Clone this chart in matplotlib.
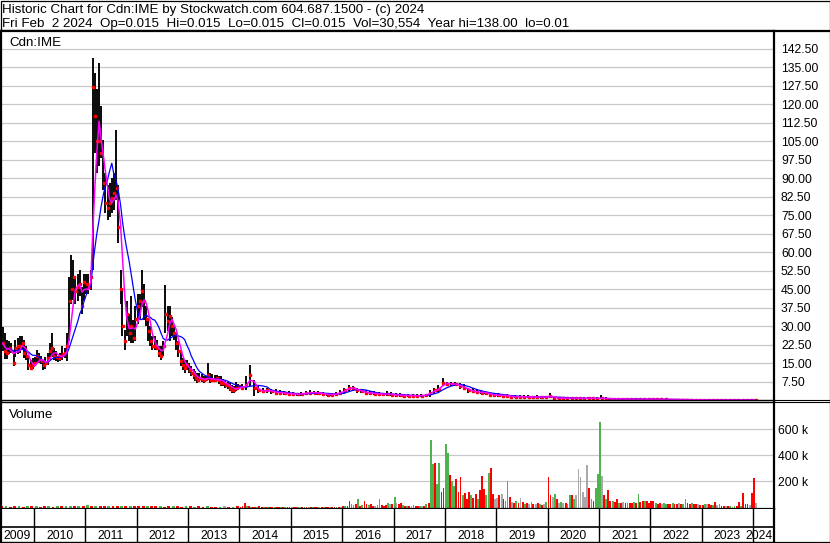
import numpy as np
import pandas as pd
import matplotlib
matplotlib.use("Agg")
from matplotlib import pyplot as plt
from matplotlib.lines import Line2D

W, H, DPI = 830, 543, 100
plt.rcParams["font.family"] = ["Liberation Sans", "DejaVu Sans"]
FS = 8.7      # tick / year labels
FS_T = 9.6    # header and panel names

# Price bars, half-monthly from mid May 2009 to Dec 2013
hi_a = [29.6, 27, 24.5, 24, 23, 20.3, 24.4, 25, 25.8, 25.8, 24.4, 22, 17.6, 16.3, 17, 17.6,
        20.3, 19, 18, 16.3, 17.5, 19, 23, 27, 21, 20, 18, 19, 22, 21, 27, 50,
        58.8, 56.8, 49, 51, 52.7, 46, 51, 51, 51, 52.7, 138.6, 132.5, 126, 136.6, 119, 105.5,
        92, 87, 88, 90, 92, 109.5, 87, 52.7, 44.7, 28.5, 40, 35, 42, 32.5, 38, 43,
        43, 52.8, 47, 38, 32.5, 30, 26, 26, 24.4, 21.7, 21.7, 24, 46.7, 38, 38, 33.8,
        29.8, 27, 24, 20.3, 17, 16.3, 16.3, 15, 13.6, 12.5, 11.6, 11, 11, 10.5, 9.6, 9.6,
        15, 11, 10.5, 10.3, 10.3, 9.8, 9.6, 8.5, 7.6, 7.2, 6.9, 6, 5.5, 7.5, 6.5]
lo_a = [20, 16.5, 16.5, 18.5, 19, 13.7, 17.6, 18.5, 19, 20.3, 17, 16.3, 12.3, 12.3, 12.5, 13.7,
        15, 15, 14.5, 12.3, 12.5, 14, 16.3, 17.6, 16.3, 16, 15.5, 16, 16.3, 17, 16, 24,
        39, 40.5, 39, 40, 42, 35, 40, 43, 43, 44.7, 52.7, 100, 92, 95, 98, 85,
        76, 73, 74, 76, 77, 81, 63.6, 39, 25.8, 20.3, 25.8, 24, 23, 23, 24, 31,
        33, 37.9, 32.5, 30, 24, 21.7, 20.3, 20.3, 20.3, 17.6, 16.3, 18, 27, 28, 24, 26,
        24.4, 20.3, 17.6, 13.6, 12, 11, 12.3, 11, 9.6, 8.5, 7.6, 6.9, 7.6, 7.2, 6.9, 7.6,
        8.3, 7, 7.2, 7.4, 7.6, 6.5, 5.5, 5.5, 4.8, 4.5, 3.5, 3, 2.8, 3.5, 4.1]
cl_a = [23, 20, 19, 21, 20, 15, 21, 22, 22, 23, 19, 18, 14, 13, 14, 15,
        18, 16.5, 16, 14, 15, 17, 20, 21, 18, 17.5, 17, 18, 18.5, 19, 22, 40,
        45, 50, 44, 46, 47, 38, 48, 47, 46, 50, 127, 115, 105, 105, 100, 88,
        80, 78, 80, 82, 84, 86, 70, 45, 30, 24, 35, 27, 30, 25, 33, 38,
        40, 44, 40, 33, 28, 24, 22, 22, 21, 19, 18, 22, 35, 32, 34, 30,
        27, 23, 20, 16, 14, 13, 14, 12, 11, 10, 9, 8, 9, 8.5, 8, 8.5,
        10, 8, 8, 8, 9, 8, 7, 7, 6, 6, 5, 4, 4, 5, 5.5]

# Price bars, monthly from Jan 2014 to Jan 2024
hi_b = [6.5, 9.6, 14.3, 8.3, 5.5, 5, 5, 4.5, 4.5, 4, 3.8, 3.5,
        3.2, 3, 3.2, 3.5, 4, 3.8, 3.5, 3.2, 3, 3, 3.2, 4,
        5, 6.2, 5.8, 5, 4.5, 4, 3.5, 3.5, 3.2, 3, 3.5, 3.2,
        2.8, 2.8, 2.5, 2.6, 2.5, 2.4, 2.5, 2.6, 4.1, 5, 6.2, 8.9,
        7.5, 7.5, 7.2, 6.8, 6.5, 5, 4.8, 4.5, 4.1, 3.8, 3, 2.8,
        2.8, 2.6, 2.5, 2.1, 2, 2.1, 1.9, 2, 1.8, 1.9, 1.7, 1.8,
        2.8, 1.4, 1.3, 1.4, 1.2, 1.3, 1.4, 1.2, 1.1, 1.3, 1.2, 1.1,
        2.1, 1.1, 1, 0.9, 1, 0.8, 0.9, 0.8, 0.7, 0.8, 0.7, 0.6,
        0.9, 0.6, 0.5, 0.6, 0.5, 0.4, 0.4, 0.35, 0.3, 0.3, 0.25, 0.2,
        0.2, 0.18, 0.15, 0.12, 0.1, 0.1, 0.08, 0.06, 0.05, 0.04, 0.03, 0.03,
        0.02]
lo_b = [4, 4.1, 5.5, 1.5, 2.8, 2.8, 3, 2.5, 2.3, 2, 2, 1.8,
        1.8, 1.6, 1.8, 2, 2.2, 2.3, 2, 1.8, 1.6, 1.5, 1.8, 2.2,
        2.5, 3.5, 3.5, 3, 2.8, 2.5, 2.2, 2, 1.8, 1.8, 1.8, 1.6,
        1.4, 1.4, 1.3, 1.3, 1.2, 1.2, 1.3, 1.4, 1.4, 2.5, 3.4, 5.5,
        5.5, 5.5, 5.5, 4.5, 4.1, 3, 2.8, 2.6, 2.4, 2.4, 1.5, 1.4,
        1.4, 1.4, 1.4, 0.8, 0.8, 0.9, 0.8, 0.8, 0.7, 0.8, 0.6, 0.7,
        1.4, 0.2, 0.3, 0.3, 0.2, 0.3, 0.3, 0.2, 0.2, 0.3, 0.2, 0.2,
        0.3, 0.2, 0.1, 0.1, 0.1, 0.1, 0.1, 0.1, 0.1, 0.1, 0.05, 0.05,
        0.05, 0.05, 0.04, 0.04, 0.03, 0.03, 0.03, 0.02, 0.02, 0.02, 0.02, 0.01,
        0.01, 0.01, 0.01, 0.01, 0.01, 0.01, 0.01, 0.01, 0.01, 0.01, 0.01, 0.01,
        0.01]
cl_b = [5, 6, 10, 5, 4, 3.5, 4, 3.5, 3, 3, 2.8, 2.5,
        2.5, 2.3, 2.5, 2.8, 3, 3, 2.8, 2.5, 2.2, 2.2, 2.6, 3,
        4, 5, 4.8, 4, 3.5, 3, 2.8, 2.6, 2.5, 2.3, 2.5, 2.2,
        2, 2, 1.8, 1.8, 1.8, 1.7, 1.8, 2, 3, 4, 4.5, 7,
        6.5, 6.5, 6.5, 5.5, 5, 4, 3.5, 3.2, 3, 3, 2.2, 2,
        2, 1.8, 1.8, 1.3, 1.3, 1.4, 1.3, 1.3, 1.2, 1.3, 1.1, 1.2,
        1.8, 0.8, 0.8, 0.8, 0.7, 0.8, 0.8, 0.7, 0.6, 0.8, 0.7, 0.6,
        0.8, 0.5, 0.5, 0.4, 0.5, 0.4, 0.4, 0.4, 0.3, 0.4, 0.3, 0.3,
        0.4, 0.3, 0.25, 0.25, 0.2, 0.2, 0.2, 0.15, 0.15, 0.12, 0.1, 0.1,
        0.08, 0.07, 0.06, 0.05, 0.04, 0.04, 0.03, 0.03, 0.02, 0.02, 0.015, 0.015,
        0.015]

# Volume in thousands: monthly May 2009 - Dec 2013
vol_early = [6, 5, 4, 6, 5, 4, 5, 6,
             5, 4, 5, 6, 4, 5, 6, 5, 8, 9, 7, 8,
             15, 9, 8, 7, 8, 6, 9, 7, 6, 6, 5, 6,
             6, 5, 7, 5, 6, 5, 4, 5, 6, 5, 4, 5,
             5, 4, 5, 4, 5, 4, 3, 4, 5, 4, 4, 5]
dir_early = "rgrrgrgr" "grrgrgrggrgr" "grgrrgrrgrgr" "rrgrrgrrgrrg" "rgrrgrrgnrgr"

# Volume in thousands: half-monthly Jan 2014 - Jan 2024
vol_late = [4, 6, 35, 12, 5, 4, 3, 4, 3, 5, 4, 3, 3, 4, 3, 3, 2, 3, 4, 3, 3, 2, 3, 3,
            3, 2, 3, 4, 3, 2, 3, 2, 2, 3, 4, 3, 2, 3, 2, 3, 2, 3, 2, 2, 3, 2, 3, 3,
            5, 8, 10, 50, 20, 15, 20, 65, 10, 15, 45, 20, 15, 25, 12, 10, 15, 65, 15, 12, 18, 30, 25, 20,
            75, 30, 20, 35, 15, 10, 12, 8, 10, 15, 10, 8, 10, 12, 8, 25, 30, 519, 330, 340, 180, 340, 120, 150,
            488, 420, 245, 200, 160, 215, 120, 230, 90, 110, 60, 120, 90, 70, 100, 60, 130, 240, 140, 90, 260, 300, 100, 60,
            70, 90, 100, 60, 50, 200, 80, 40, 30, 50, 30, 70, 40, 20, 30, 25, 40, 20, 25, 30, 20, 15, 25, 40,
            230, 95, 80, 100, 60, 30, 40, 30, 30, 25, 90, 90, 60, 90, 290, 230, 115, 80, 327, 150, 60, 50, 150, 255,
            660, 240, 90, 60, 130, 50, 45, 40, 60, 30, 35, 40, 30, 30, 35, 30, 40, 30, 100, 40, 50, 45, 50, 30,
            45, 50, 30, 25, 30, 25, 35, 25, 20, 25, 30, 20, 25, 30, 25, 20, 65, 30, 25, 30, 20, 25, 20, 15,
            15, 20, 25, 20, 15, 15, 40, 15, 20, 10, 8, 5, 5, 5, 3, 8, 10, 40, 10, 105, 20, 20, 15, 110,
            226, 30]
dir_late = ("rrrgrgrrgrrgrgrrgrrgrgrr" "nrrgnrgrnrgrrnrgrrnrrgrn" "rgrrggrgrgrrgrrnggrrrgnr"
            "gnrrgrgrngrrgnrgrggrggrr" "ggrggrrrgrrrgrrgrrrggrrn" "nrnrggrnrgrnrgrngrnrgrng"
            "rrngrngnrggrgnnnnnnrgrgg" "gnrgrrgrrgrnrgrrgrgrrgrr" "rrgrrnggrrgrrnrggrrgrrnr"
            "rgnrrgrngrrnrgggrrgrrrnr" "rn")

price_ticks = np.arange(7.5, 143, 7.5)
vol_ticks = [200, 400, 600]
years = list(range(2009, 2025))

title1 = "Historic Chart for Cdn:IME by Stockwatch.com 604.687.1500 - (c) 2024"
title2 = ("Fri Feb  2 2024  Op=0.015  Hi=0.015  Lo=0.015  Cl=0.015  "
          "Vol=30,554  Year hi=138.00  lo=0.01")

# bar positions (middle of each period)
pos_a = pd.date_range("2009-05-15", "2013-12-15", freq="SMS") + pd.Timedelta(days=7)
pos_b = pd.date_range("2014-01-01", "2024-01-01", freq="MS") + pd.Timedelta(days=15)
vpos_early = pd.date_range("2009-05-01", "2013-12-01", freq="MS") + pd.Timedelta(days=15)
vpos_late = pd.date_range("2014-01-01", "2024-01-15", freq="SMS") + pd.Timedelta(days=7)

pos_all = pos_a.append(pos_b)
close = pd.Series(cl_a + cl_b, index=pos_all)
ma_fast = close.rolling("50D").mean()
ma_slow = close.rolling("150D").mean()

GRID = "#c8c8c8"
VCOL = {"r": "#ff0000", "g": "#4db34d", "n": "#a9a9a9"}
X0, X1 = pd.Timestamp("2009-05-11"), pd.Timestamp("2024-05-29")


def px_box(left, top, right, bottom):
    return [left / W, 1 - bottom / H, (right - left) / W, (bottom - top) / H]


fig = plt.figure(figsize=(W / DPI, H / DPI), dpi=DPI)
fig.patch.set_facecolor("white")

ax_p = fig.add_axes(px_box(1, 31, 774, 400))
ax_v = fig.add_axes(px_box(1, 402, 774, 509), sharex=ax_p)
ax_d = fig.add_axes(px_box(1, 509, 774, 542), sharex=ax_p)

year_starts = [pd.Timestamp(f"{y}-01-01") for y in years[1:]]

for ax in (ax_p, ax_v):
    ax.set_xticks(year_starts)
    ax.grid(True, color=GRID, lw=0.9)
    ax.set_axisbelow(True)
    ax.tick_params(axis="x", length=0, labelbottom=False)
    ax.yaxis.tick_right()
    ax.tick_params(axis="y", length=0, pad=5, labelsize=FS, labelcolor="black")
    for s in ax.spines.values():
        s.set_color("black")
        s.set_linewidth(1.0)
    ax.spines["left"].set_linewidth(1.6)
    ax.spines["right"].set_linewidth(1.6)

# price panel
ax_p.vlines(pos_all, lo_a + lo_b, hi_a + hi_b, color="black", lw=1.35)
ax_p.plot(pos_all + pd.Timedelta(days=3), cl_a + cl_b, ls="none", marker="s",
          ms=1.5, mfc="#ff0000", mec="#ff0000")
ax_p.plot(ma_slow.index, ma_slow.values, color="#0000ff", lw=0.9)
ax_p.plot(ma_fast.index, ma_fast.values, color="#ff00ff", lw=1.1)
ax_p.set_ylim(0, 149.6)
ax_p.set_yticks(price_ticks)
ax_p.set_yticklabels([f"{v:.2f}" for v in price_ticks])
ax_p.spines["top"].set_linewidth(1.6)

# volume panel
vol_lo = -15
ax_v.bar(vpos_early, np.array(vol_early) - vol_lo, bottom=vol_lo, width=20,
         color=[VCOL[c] for c in dir_early], lw=0)
ax_v.bar(vpos_late, np.array(vol_late) - vol_lo, bottom=vol_lo, width=13,
         color=[VCOL[c] for c in dir_late], lw=0)
ax_v.set_ylim(vol_lo, 811)
ax_v.set_yticks(vol_ticks)
ax_v.set_yticklabels([f"{v} k" for v in vol_ticks])
ax_v.tick_params(axis="y", pad=3)
ax_v.spines["bottom"].set_linewidth(1.6)

ax_p.set_xlim(X0, X1)

# date strip with year labels
ax_d.set_ylim(0, 1)
ax_d.set_xticks([])
ax_d.set_yticks([])
for s in ax_d.spines.values():
    s.set_color("black")
    s.set_linewidth(1.0)
ax_d.spines["left"].set_linewidth(1.6)
ax_d.spines["right"].set_linewidth(1.6)
ax_d.spines["top"].set_visible(False)
ax_d.axhline(15 / 33, color="black", lw=1.2)
for ys in year_starts:
    ax_d.axvline(ys, color="black", lw=1.0)
for y in years:
    a = max(pd.Timestamp(f"{y}-01-01"), X0)
    b = min(pd.Timestamp(f"{y + 1}-01-01"), X1)
    mid = a + (b - a) / 2
    if y == years[-1]:
        mid = a + pd.Timedelta(days=40)
    ax_d.text(mid, 0.1, str(y), ha="center", va="baseline", fontsize=FS)

# frame and header
frame = fig.add_axes([0, 0, 1, 1], zorder=-1)
frame.set_xlim(0, W)
frame.set_ylim(H, 0)
frame.axis("off")
frame.add_line(Line2D([0, W], [30.5, 30.5], color="black", lw=1.6))
frame.add_line(Line2D([774, W], [400, 400], color="black", lw=0.8))
frame.add_line(Line2D([774, W], [402, 402], color="black", lw=0.8))
frame.add_patch(plt.Rectangle((0.5, 0.5), W - 1, H - 1.5, fill=False, ec="black", lw=0.9))

fig.text(2 / W, 1 - 13.3 / H, title1, fontsize=FS_T, va="baseline", ha="left")
fig.text(2 / W, 1 - 27 / H, title2, fontsize=FS_T, va="baseline", ha="left")
fig.text(9 / W, 1 - 46 / H, "Cdn:IME", fontsize=FS_T, va="baseline", ha="left")
fig.text(9 / W, 1 - 418 / H, "Volume", fontsize=FS_T, va="baseline", ha="left")

fig.savefig("out.png", dpi=DPI)
